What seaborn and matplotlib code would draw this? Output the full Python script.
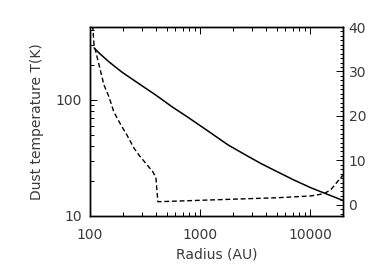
import numpy as np
import pandas as pd
import matplotlib
matplotlib.use("Agg")
import matplotlib.pyplot as plt
import seaborn as sns
from matplotlib.ticker import LogLocator, NullFormatter, FixedLocator, MultipleLocator

# dust temperature (solid, left log axis)
radius_t = [109, 121, 149, 195, 279, 398, 556, 794, 1135, 1799, 2512,
            3589, 5117, 7161, 10200, 14580, 20000]
temp_k = [281, 254, 213, 174, 138, 110, 87.5, 70, 55.5, 41, 34.2,
          28.3, 23.9, 20.4, 17.5, 15.3, 13.6]

# second quantity (dashed, right linear axis)
radius_d = [106, 109, 121, 134, 149, 165, 191, 217, 251, 279, 374, 398, 415,
            1259, 2512, 5117, 10200, 13400, 15500, 20000]
dashed_val = [40.4, 36, 31.5, 27, 24.3, 20.9, 18, 15.7, 12.8, 11.2, 7.4, 6.1, 0.7,
              1.1, 1.35, 1.6, 2.0, 2.5, 3.4, 6.7]

x_ticks = [100, 1000, 10000]
x_labels = ['100', '1000', '10000']
y_ticks = [10, 100]
y_labels = ['10', '100']
y2_ticks = [0, 10, 20, 30, 40]

sns.set_style("ticks")
plt.rcParams['font.family'] = ['DejaVu Sans']
txt = '#3a3a3a'

fig = plt.figure(figsize=(3.7, 2.73), dpi=100)
ax = fig.add_axes([0.243, 0.209, 0.684, 0.692])
ax.set_xscale('log')
ax.set_yscale('log')

df_t = pd.DataFrame({'r': radius_t, 't': temp_k})
sns.lineplot(data=df_t, x='r', y='t', ax=ax, color='black', lw=1.1,
             estimator=None, sort=False)

ax.set_xlim(100, 20000)
ax.set_ylim(10, 425)
ax.xaxis.set_major_locator(FixedLocator(x_ticks))
ax.set_xticklabels(x_labels)
ax.xaxis.set_minor_locator(LogLocator(base=10, subs=np.arange(2, 10)))
ax.xaxis.set_minor_formatter(NullFormatter())
ax.yaxis.set_major_locator(FixedLocator(y_ticks))
ax.set_yticklabels(y_labels)
ax.yaxis.set_minor_locator(LogLocator(base=10, subs=np.arange(2, 10)))
ax.yaxis.set_minor_formatter(NullFormatter())
ax.tick_params(which='both', direction='in', top=True, right=False,
               colors='black', labelcolor=txt, labelsize=10, width=0.7)
ax.tick_params(which='major', length=5)
ax.tick_params(which='minor', length=3)
ax.tick_params(axis='x', which='both', pad=9)
ax.tick_params(axis='y', which='both', pad=6)
ax.set_xlabel('Radius (AU)', fontsize=10, color=txt, labelpad=4)
ax.set_ylabel('Dust temperature T(K)', fontsize=10, color=txt, labelpad=8)
for s in ax.spines.values():
    s.set_linewidth(1.0)
    s.set_color('black')

ax2 = ax.twinx()
df_d = pd.DataFrame({'r': radius_d, 'v': dashed_val})
sns.lineplot(data=df_d, x='r', y='v', ax=ax2, color='black', lw=1.0,
             estimator=None, sort=False)
ax2.lines[0].set_linestyle((0, (3.5, 2)))
ax2.set_xlim(100, 20000)
ax2.set_ylim(-2.5, 40)
ax2.yaxis.set_major_locator(FixedLocator(y2_ticks))
ax2.yaxis.set_minor_locator(MultipleLocator(1))
ax2.set_ylabel('')
ax2.tick_params(which='both', direction='in', colors='black', labelcolor=txt,
                labelsize=10, width=0.7, pad=4)
ax2.tick_params(which='major', length=5)
ax2.tick_params(which='minor', length=2.5)
for s in ax2.spines.values():
    s.set_linewidth(1.0)
    s.set_color('black')

fig.savefig('out.png', dpi=100)
